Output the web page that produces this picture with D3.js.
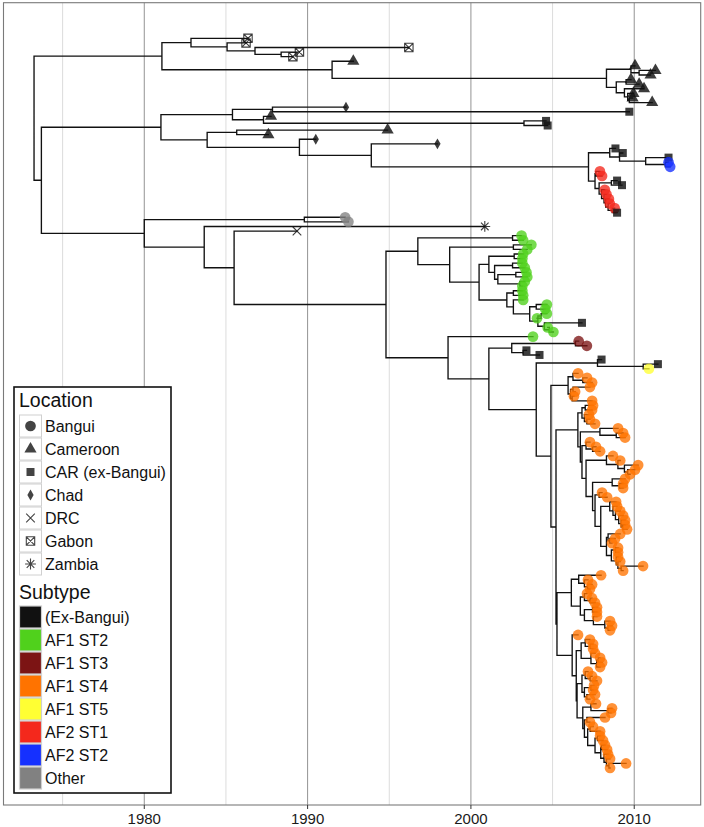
<!DOCTYPE html>
<html><head><meta charset="utf-8">
<script src="https://cdn.jsdelivr.net/npm/d3@7"></script>
<style>body{margin:0;background:#fff}svg{display:block}text{font-family:"Liberation Sans",Arial,Helvetica,sans-serif}</style>
</head><body><svg id="c" width="704" height="827"></svg>
<script>
// ---------------- DATA ----------------
const locations = ["Bangui","Cameroon","CAR (ex-Bangui)","Chad","DRC","Gabon","Zambia"];
const locCodes  = ["B","C","R","T","D","G","Z"];
const subtypes  = ["(Ex-Bangui)","AF1 ST2","AF1 ST3","AF1 ST4","AF1 ST5","AF2 ST1","AF2 ST2","Other"];
const subCodes  = ["e","2","3","4","5","a","b","o"];
const subColors = ["#111111","#50d11c","#7c1414","#ff7300","#ffff33","#f4281c","#1530ff","#818181"];
const majorYears = [1980,1990,2000,2010];
const minorYears = [1975,1985,1995,2005];
const yearLimits = [1971.38,2014.07];

// Tree (Newick-like): tip = Location/Subtype/date, internal node date after ")"
const cladeGabon = "(G/e/1986.35,(G/e/1986.23,(G/e/1996.2,(G/e/1989.5,G/e/1989.1)1988.38)1986.78)1985.07)1982.86";
const cladeCamTri = "((C/e/2010.05,(C/e/2011.3,C/e/2011.0)2010.3)2009.8,((C/e/2009.8,C/e/2010.3)2009.5,(C/e/2010.6,(C/e/2009.95,(C/e/2009.9,C/e/2011.1)2009.7)2009.6)2009.4)2008.9)2008.3";
const cladeRed = "((B/a/2007.9,B/a/2008.03)2007.65,((R/e/2008.95,R/e/2009.25)2008.6,(B/a/2008.2,(B/a/2008.3,(B/a/2008.45,(B/a/2008.5,(B/a/2008.8,R/e/2008.95)2008.65)2008.4)2008.25)2008.15)2008.0)2007.85)2007.6";
const cladeBlue = "(R/e/2008.85,(R/e/2009.3,(R/e/2012.1,(B/b/2012.1,B/b/2012.2)2011.9)2010.7)2009.1)2008.5";
const cladeGreen2 = "((B/2/2004.65,B/2/2004.55)2004.0,((B/2/2004.65,B/2/2004.05)2004.3,(R/e/2006.8,(B/2/2004.7,B/2/2005.05)2004.8)2004.5)2004.1)2003.6";
const cladeGreen1 = "((B/2/2003.1,B/2/2003.2)2002.55,((B/2/2003.7,B/2/2003.45)2002.6,(((B/2/2003.2,B/2/2003.15)2002.65,((B/2/2003.15,B/2/2003.3)2002.55,((B/2/2003.4,B/2/2003.45)2002.75,(B/2/2003.3,B/2/2003.15)2003.0)2001.65)2001.45)2001.1,((B/2/2003.15,B/2/2003.2)2002.6,(B/2/2003.2,GREEN2)2002.6)2002.2)2000.5)1998.7)1996.75";
const orangeO1 = "((B/4/2006.56,(B/4/2007.11,B/4/2007.42)2006.85)2006.25,((B/4/2007.29,B/4/2006.38)2006.25,(B/4/2006.31,B/4/2007.42)2006.2)2006.1)2005.95";
const orangeCa = "((B/4/2007.48,B/4/2007.42)2007.0,(B/4/2007.23,(B/4/2007.29,B/4/2007.6)2007.1)2006.95)2006.8";
const orangeCb = "(B/4/2009.01,(B/4/2009.32,B/4/2009.44)2008.9)2007.9";
const orangeCc = "(B/4/2007.29,(B/4/2007.66,B/4/2007.91)2007.45)2007.05";
const orangeCd = "(B/4/2008.7,(B/4/2009.14,(B/4/2010.24,(B/4/2010.05,B/4/2009.75)2009.6)2009.4)2009.0)2008.3";
const orangeCe = "(B/4/2009.44,(B/4/2009.32,B/4/2009.32)2009.1)2008.65";
const orangeCg = "(B/4/2008.89,(B/4/2008.95,(B/4/2009.14,(B/4/2009.32,(B/4/2009.44,(B/4/2009.44,B/4/2009.56)2009.3)2009.2)2009.05)2008.85)2008.7)2008.5";
const orangeRg = "((B/4/2009.14,(B/4/2008.83,B/4/2008.64)2008.5)2008.4,((B/4/2009.01,B/4/2009.01)2008.85,(B/4/2009.01,(B/4/2009.14,(B/4/2010.54,B/4/2009.32)2009.2)2009.0)2008.9)2008.6)2008.3";
const orangeN571 = "((B/4/2007.97,(B/4/2007.17,(B/4/2007.42,B/4/2007.29)2007.15)2006.95)2006.6,((B/4/2007.11,(B/4/2007.42,B/4/2007.6)2007.3)2006.95,((B/4/2007.72,B/4/2007.72)2007.45,(B/4/2007.72,(B/4/2008.52,(B/4/2008.64,B/4/2008.52)2008.4)2008.2)2007.5)2006.95)2006.7)2006.15";
const orangeC1 = "((B/4/2007.29,(B/4/2007.48,B/4/2007.48)2007.3)2007.0,(B/4/2007.6,((B/4/2007.91,B/4/2008.03)2007.8,B/4/2007.91)2007.7)2007.35)2006.75";
const orangeC2 = "((B/4/2007.17,(B/4/2007.42,B/4/2007.72)2007.3)2007.0,((B/4/2007.54,B/4/2007.48)2007.35,(B/4/2007.6,B/4/2007.29)2007.1)2006.95)2006.8";
const orangeC3 = "(B/4/2007.66,(B/4/2008.64,B/4/2008.58)2008.4)2007.35";
const orangeR5 = "((B/4/2007.48,B/4/2007.91)2007.3,((B/4/2007.91,B/4/2008.09)2007.75,((B/4/2008.21,B/4/2008.34)2008.0,(B/4/2008.4,(B/4/2008.52,(B/4/2009.5,B/4/2008.52)2008.45)2008.3)2008.15)2007.95)2007.6)2007.15";

// ---------------- TREE ASSEMBLY ----------------
const O2a = `(${orangeCa},(${orangeCb},(${orangeCc},(${orangeCd},(${orangeCe},((B/4/2008.03,B/4/2008.34)2007.85,(${orangeCg},${orangeRg})2007.95)2007.6)2007.45)2007.05)2006.8)2006.7)2006.55`;
const N572 = `(B/4/2006.56,(${orangeC1},(${orangeC2},(${orangeC3},((B/4/2008.21,B/4/2007.29)2007.1,${orangeR5})2006.95)2006.85)2006.5)2006.45)2006.2`;
const orange = `(${orangeO1},(${O2a},(${orangeN571},${N572})2005.27)2005.21)2004.9`;
const green = cladeGreen1.replace("GREEN2", cladeGreen2);
const cladeX = `(${green},(B/2/2003.8,(((B/3/2006.6,B/3/2007.1)2006.4,(R/e/2003.4,R/e/2004.2)2003.2)2002.5,((R/e/2008.0,(R/e/2011.45,B/5/2010.9)2010.55)2007.75,${orange})2004.0)2001.1)1998.6)1994.8`;
const cladeA = `(${cladeGabon},(C/e/1992.8,${cladeCamTri})1991.5)1981.08`;
const cladeB = `(((T/e/1992.35,R/e/2009.7)1987.85,(C/e/1987.76,(R/e/2004.6,R/e/2004.7)2003.25)1987.3)1985.4,((C/e/1994.9,C/e/1987.6)1985.66,(T/e/1990.5,(T/e/1997.95,(${cladeBlue},${cladeRed})2007.2)1993.9)1989.5)1983.85)1981.02`;
const cladeBottom = `((B/o/1992.3,B/o/1992.5)1989.8,(Z/e/2000.85,(D/e/1989.35,${cladeX})1985.5)1983.67)1980.0`;
const treeString = `(${cladeA},(${cladeB},${cladeBottom})1973.7)1973.25`;

function parseTree(s){
  s = s.replace(/\s+/g,"");
  let i = 0;
  function label(){ let l=""; while(i<s.length && !",()".includes(s[i])) l+=s[i++]; return l; }
  function node(){
    if(s[i]==="("){
      i++; const children=[node()];
      while(s[i]===","){ i++; children.push(node()); }
      i++;
      return {children, year:+label()};
    }
    const [loc,sub,yr] = label().split("/");
    return {loc, sub, year:+yr};
  }
  return node();
}
const root = parseTree(treeString);
const tips = [], internals = [];
(function lay(n){
  if(!n.children){ n.yv = tips.length; tips.push(n); }
  else { n.children.forEach(lay); n.yv = d3.mean(n.children, c=>c.yv); internals.push(n); }
})(root);

// ---------------- DRAW ----------------
const svg = d3.select("#c");
const panel = {l:3.5, r:700.7, t:2.7, b:805};
const x = d3.scaleLinear().domain(yearLimits).range([panel.l, panel.r]);
const y = d3.scaleLinear().domain([0, tips.length-1]).range([38.3, 768]);

svg.append("rect").attr("x",0).attr("y",0).attr("width",704).attr("height",827).attr("fill","#fff");
// grid
svg.append("g").selectAll("line").data(minorYears).join("line")
  .attr("x1",d=>x(d)).attr("x2",d=>x(d)).attr("y1",panel.t).attr("y2",panel.b)
  .attr("stroke","#dcdcdc").attr("stroke-width",1);
svg.append("g").selectAll("line").data(majorYears).join("line")
  .attr("x1",d=>x(d)).attr("x2",d=>x(d)).attr("y1",panel.t).attr("y2",panel.b)
  .attr("stroke","#939393").attr("stroke-width",1);

// branches
let p = "";
internals.forEach(n=>{
  const ys = n.children.map(c=>y(c.yv));
  const xn = x(n.year);
  p += `M${xn},${d3.min(ys)}V${d3.max(ys)}`;
  n.children.forEach(c=>{ p += `M${xn},${y(c.yv)}H${x(c.year)}`; });
});
svg.append("path").attr("d",p).attr("fill","none").attr("stroke","#111")
  .attr("stroke-width",1.35).attr("stroke-linecap","square");

// marker shapes
const sym = {
  B: d3.symbol().type(d3.symbolCircle).size(90)(),
  C: d3.symbol().type(d3.symbolTriangle).size(64)(),
  R: d3.symbol().type(d3.symbolSquare).size(64)(),
  T: d3.symbol().type(d3.symbolDiamond).size(34)(),
  D: "M-4.3,-4.3L4.3,4.3M-4.3,4.3L4.3,-4.3",
  G: "M-4.2,-4.2H4.2V4.2H-4.2ZM-4.2,-4.2L4.2,4.2M-4.2,4.2L4.2,-4.2",
  Z: "M-5.4,0H5.4M0,-5.4V5.4M-3.8,-3.8L3.8,3.8M-3.8,3.8L3.8,-3.8"
};
const stroked = new Set(["D","G","Z"]);
function drawMarker(g, loc, color, op){
  const e = g.append("path").attr("d", sym[loc]);
  if(stroked.has(loc)) e.attr("fill","none").attr("stroke",color).attr("stroke-width",1.1).attr("opacity",op);
  else e.attr("fill",color).attr("fill-opacity",op);
  return e;
}
const mg = svg.append("g");
tips.forEach(t=>{
  const col = subColors[subCodes.indexOf(t.sub)];
  const g = mg.append("g").attr("transform",`translate(${x(t.year)},${y(t.yv)})`);
  drawMarker(g, t.loc, col, t.loc==="B" ? 0.78 : 0.82);
});

// panel border
svg.append("rect").attr("x",panel.l).attr("y",panel.t).attr("width",panel.r-panel.l).attr("height",panel.b-panel.t)
  .attr("fill","none").attr("stroke","#7a7a7a").attr("stroke-width",1.1);

// axis
const ax = svg.append("g");
ax.selectAll("line").data(majorYears).join("line")
  .attr("x1",d=>x(d)).attr("x2",d=>x(d)).attr("y1",panel.b).attr("y2",panel.b+4)
  .attr("stroke","#333").attr("stroke-width",1);
ax.selectAll("text").data(majorYears).join("text")
  .attr("x",d=>x(d)).attr("y",824).attr("text-anchor","middle")
  .attr("font-size",15).attr("fill","#1a1a1a").text(d=>d);

// legend
const lg = svg.append("g");
lg.append("rect").attr("x",14).attr("y",387).attr("width",157).attr("height",406)
  .attr("fill","#fff").attr("stroke","#111").attr("stroke-width",1.6);
lg.append("text").attr("x",19).attr("y",407).attr("font-size",19.5).attr("fill","#111").text("Location");
locations.forEach((name,i)=>{
  const cy = 426 + i*23;
  lg.append("rect").attr("x",19.5).attr("y",cy-11).attr("width",22).attr("height",22)
    .attr("fill","#fff").attr("stroke","#d0d0d0").attr("stroke-width",1);
  const g = lg.append("g").attr("transform",`translate(30.5,${cy})`);
  drawMarker(g, locCodes[i], "#444", 1);
  lg.append("text").attr("x",45).attr("y",cy+5.6).attr("font-size",16).attr("fill","#111").text(name);
});
lg.append("text").attr("x",19).attr("y",599).attr("font-size",19.5).attr("fill","#111").text("Subtype");
subtypes.forEach((name,i)=>{
  const cy = 617 + i*23;
  lg.append("rect").attr("x",19.5).attr("y",cy-11).attr("width",22).attr("height",22)
    .attr("fill",subColors[i]).attr("stroke","#cfcfcf").attr("stroke-width",1.2);
  lg.append("text").attr("x",45).attr("y",cy+5.6).attr("font-size",16).attr("fill","#111").text(name);
});
</script></body></html>
